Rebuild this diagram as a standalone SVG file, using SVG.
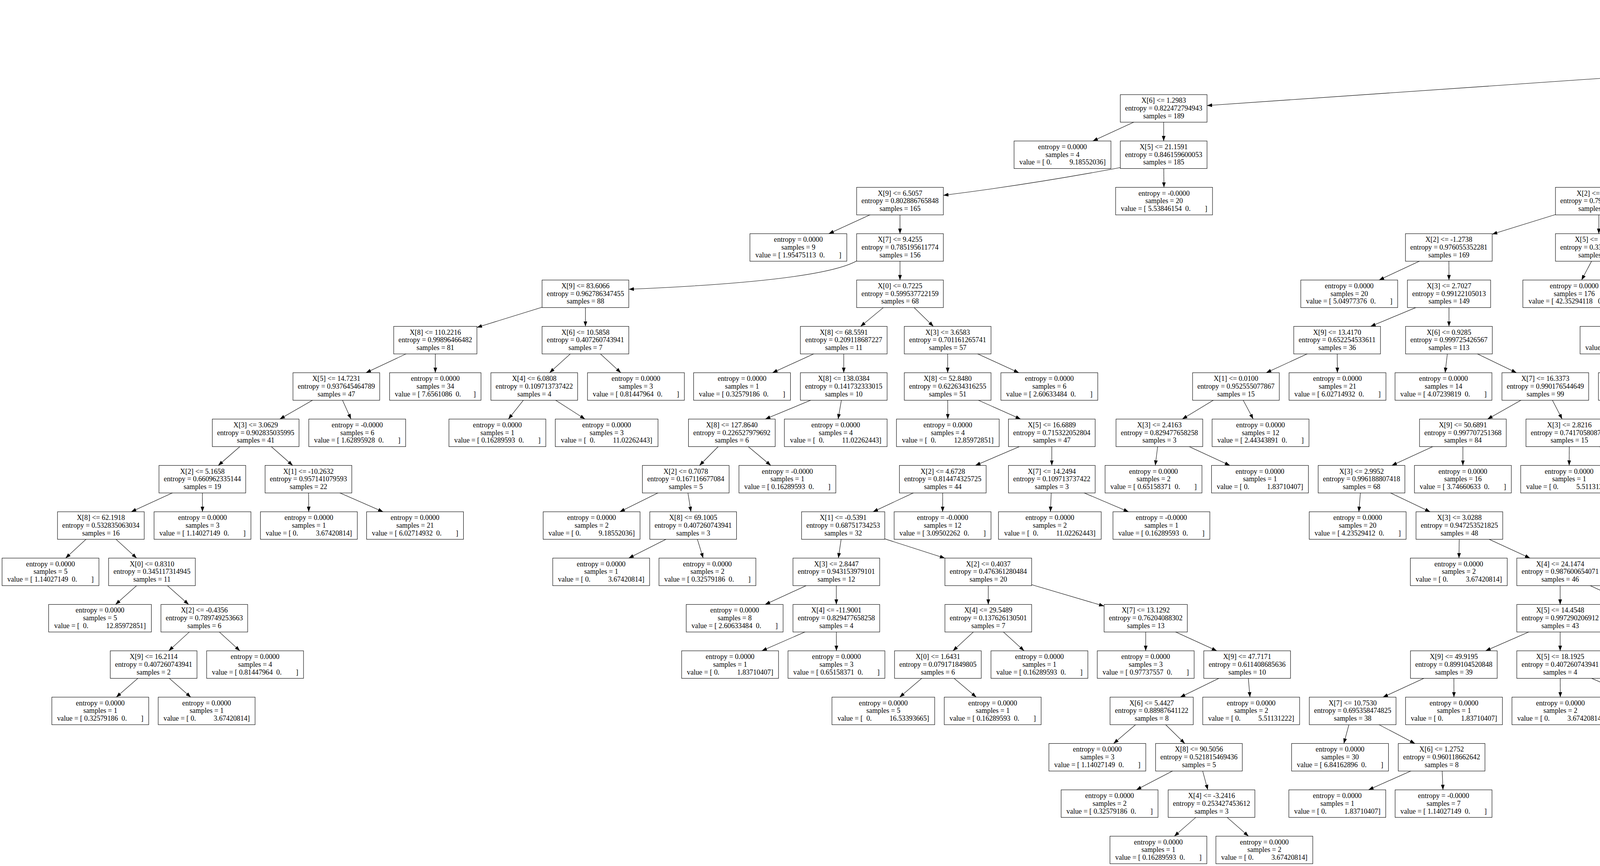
<svg xmlns="http://www.w3.org/2000/svg" width="6928" height="2217" viewBox="0 0 6928 2217" xml:space="preserve">
<style>
.n rect{fill:#fff;stroke:#000;stroke-width:1.1}
.n text{font-family:"Liberation Serif","Times New Roman",serif;font-size:18.2px;text-anchor:middle;fill:#000;white-space:pre}
#edges path{fill:none;stroke:#000;stroke-width:1.1;marker-end:url(#ah)}
</style>
<defs><marker id="ah" markerUnits="userSpaceOnUse" viewBox="0 0 13 9.4" refX="13" refY="4.7" markerWidth="13" markerHeight="9.4" orient="auto"><path d="M0 0L13 4.7L0 9.4z" fill="#000"/></marker></defs>
<rect width="6928" height="2217" fill="#fff"/>
<g id="edges">
<path d="M4920.5 40.25L4767.4 123.65"/><path d="M4920.5 40.25L5074.1 123.65"/>
<path d="M4702 158.9L3090 270.2"/><path d="M4702 158.9L4702 242.3"/><path d="M5139.7 158.9L5139.9 242.3"/><path d="M5139.7 158.9L5414 243.6"/>
<path d="M2979 277.55L2797.5 360.95"/><path d="M2979 277.55L2979 360.95"/><path d="M4702 277.55L4642.7 360.95"/><path d="M4702 277.55L4912.5 360.95"/><path d="M5525 277.55L5525 360.95"/><path d="M5525 277.55L5712.1 360.95"/>
<path d="M2868 429Q2642 471.5 2415 500"/><path d="M2979 396.2L2979.7 479.6"/><path d="M4617.4 396.2L4204 490"/><path d="M4617.4 396.2L4617.4 479.6"/><path d="M5002.4 396.2L5002.6 479.6"/><path d="M5002.4 396.2L5182.2 479.6"/><path d="M5525 396.2L5524.3 479.6"/><path d="M5525 396.2L5707.2 479.6"/>
<path d="M2304 514.85L2121.7 598.25"/><path d="M2304 514.85L2304 598.25"/><path d="M4093 514.85L3820 599.5"/><path d="M4093 514.85L4093 598.25"/><path d="M4617.4 514.85L4547 598.25"/><path d="M4617.4 514.85L4729.6 598.25"/><path d="M5002.7 514.85L5026.7 598.25"/><path d="M5002.7 514.85L5313 602.5"/><path d="M5785 514.85L5761.5 598.25"/><path d="M5785 514.85L5952.5 598.25"/>
<path d="M2193 668Q2100 720 1609.7 740.5"/><path d="M2304 633.5L2304 716.9"/><path d="M3709 633.5L3530.3 716.9"/><path d="M3709 633.5L3709.4 716.9"/><path d="M4093 633.5L4048.8 716.9"/><path d="M4093 633.5L4236 716.9"/><path d="M4777.5 633.5L4777.5 716.9"/><path d="M4777.5 633.5L5052 718.2"/><path d="M5424 633.5L5424 716.9"/><path d="M5424 633.5L5614.6 716.9"/>
<path d="M1498.7 752.15L1220.9 838.2"/><path d="M1498.7 752.15L1498.7 835.55"/><path d="M2304 752.15L2203.1 835.55"/><path d="M2304 752.15L2389.5 835.55"/><path d="M3709.5 752.15L3508.7 835.55"/><path d="M3709.5 752.15L3709.4 835.55"/><path d="M4297 752.15L4202.4 835.55"/><path d="M4297 752.15L4380.4 835.55"/><path d="M4777.5 752.15L4732.3 835.55"/><path d="M4777.5 752.15L4917.3 835.55"/><path d="M5163 752.15L5226.8 835.55"/><path d="M5163 752.15L5404.4 835.55"/>
<path d="M1114.4 870.8L936.8 954.2"/><path d="M1114.4 870.8L1114.4 954.2"/><path d="M1498.7 870.8L1406.9 954.2"/><path d="M1498.7 870.8L1589.3 954.2"/><path d="M2160 870.8L1977.5 954.2"/><path d="M2160 870.8L2160 954.2"/><path d="M2426 870.8L2426 954.2"/><path d="M2426 870.8L2608.4 954.2"/><path d="M3423 870.8L3241.5 954.2"/><path d="M3423 870.8L3423.7 954.2"/><path d="M3709.3 870.8L3699.5 954.2"/><path d="M3709.3 870.8L3882.2 954.2"/><path d="M4416 870.8L4270.9 954.2"/><path d="M4416 870.8L4448.2 954.2"/><path d="M4977 870.8L4798.3 954.2"/><path d="M4977 870.8L4994.8 954.2"/><path d="M5254 870.8L5264.5 954.2"/><path d="M5254 870.8L5446.7 954.2"/>
<path d="M861 989.45L716.3 1072.85"/><path d="M861 989.45L898.5 1072.85"/><path d="M1367.7 989.45L1301.5 1072.85"/><path d="M1367.7 989.45L1497.6 1072.85"/><path d="M2160 989.45L1959.2 1072.85"/><path d="M2160 989.45L2145.6 1072.85"/><path d="M2426 989.45L2426.3 1072.85"/><path d="M2426 989.45L2612.8 1072.85"/><path d="M3164 989.45L3026.6 1072.85"/><path d="M3164 989.45L3208.2 1072.85"/><path d="M3956 989.45L3808.1 1072.85"/><path d="M3956 989.45L3999.1 1072.85"/><path d="M4462 989.45L4420.3 1072.85"/><path d="M4462 989.45L4598.5 1072.85"/><path d="M5269 989.45L5268.6 1072.85"/><path d="M5269 989.45L5618.3 1080.6"/>
<path d="M654.5 1108.1L558.8 1191.5"/><path d="M654.5 1108.1L749.2 1191.5"/><path d="M1873.5 1108.1L1790.8 1191.5"/><path d="M1873.5 1108.1L1973.2 1191.5"/><path d="M2692.6 1108.1L2497 1191.5"/><path d="M2692.6 1108.1L2692.6 1191.5"/><path d="M2968 1108.1L2957.5 1191.5"/><path d="M2968 1108.1L3148.5 1191.5"/><path d="M3745 1108.1L3563.1 1191.5"/><path d="M3745 1108.1L3745 1191.5"/><path d="M4017.5 1108.1L4017.1 1191.5"/><path d="M4017.5 1108.1L4199.4 1191.5"/><path d="M4656.8 1108.1L4572.8 1191.5"/><path d="M4656.8 1108.1L4763.5 1191.5"/><path d="M5268.5 1108.1L5136.9 1191.5"/><path d="M5268.5 1108.1L5319.2 1191.5"/><path d="M5724.8 1108.1L5724.7 1191.5"/><path d="M5724.8 1108.1L6004 1193.2"/>
<path d="M518 1226.75L335.9 1310.15"/><path d="M518 1226.75L518.3 1310.15"/><path d="M789.6 1226.75L790.4 1310.15"/><path d="M789.6 1226.75L980.8 1310.15"/><path d="M1755.5 1226.75L1586.6 1310.15"/><path d="M1755.5 1226.75L1768.8 1310.15"/><path d="M2413.5 1226.75L2234.8 1310.15"/><path d="M2413.5 1226.75L2413.1 1310.15"/><path d="M2692.6 1226.75L2689.1 1310.15"/><path d="M2692.6 1226.75L2889.2 1310.15"/><path d="M3485.5 1226.75L3478.6 1310.15"/><path d="M3485.5 1226.75L3661.1 1310.15"/><path d="M4277 1226.75L4276.2 1310.15"/><path d="M4277 1226.75L4458 1310.15"/><path d="M5340.8 1226.75L5166.9 1310.15"/><path d="M5340.8 1226.75L5341.4 1310.15"/><path d="M5724.7 1226.75L5634.2 1310.15"/><path d="M5724.7 1226.75L5816.7 1310.15"/><path d="M6115 1226.75L6115.4 1310.15"/><path d="M6115 1226.75L6297.9 1310.15"/>
<path d="M258.2 1345.4L167.9 1428.8"/><path d="M258.2 1345.4L349.9 1428.8"/><path d="M1774.5 1345.4L1609.5 1428.8"/><path d="M1774.5 1345.4L1800.1 1428.8"/><path d="M2158.5 1345.4L2146.2 1428.8"/><path d="M2158.5 1345.4L2419 1428.9"/><path d="M3736 1345.4L3735 1428.8"/><path d="M3736 1345.4L3916.8 1428.8"/><path d="M4535.3 1345.4L4440.3 1428.8"/><path d="M4535.3 1345.4L4631.1 1428.8"/><path d="M5341.7 1345.4L5205.9 1428.8"/><path d="M5341.7 1345.4L5388 1428.8"/><path d="M5856 1345.4L5766.9 1428.8"/><path d="M5856 1345.4L5948.9 1428.8"/><path d="M6376 1345.4L6328.6 1428.8"/><path d="M6376 1345.4L6511.2 1428.8"/>
<path d="M389 1464.05L295.8 1547.45"/><path d="M389 1464.05L482.9 1547.45"/><path d="M2141 1464.05L1958.6 1547.45"/><path d="M2141 1464.05L2141 1547.45"/><path d="M2530 1464.05L2530 1547.45"/><path d="M2530 1464.05L2826.5 1551.6"/><path d="M3994 1464.05L3994 1547.45"/><path d="M3994 1464.05L4176.2 1547.45"/><path d="M5147.9 1464.05L4993.6 1547.45"/><path d="M5147.9 1464.05L5184.4 1547.45"/><path d="M5728.8 1464.05L5613.2 1547.45"/><path d="M5728.8 1464.05L5809.5 1547.45"/><path d="M6568.9 1464.05L6547.5 1547.45"/><path d="M6568.9 1464.05L6729.9 1547.45"/>
<path d="M523 1582.7L432.1 1666.1"/><path d="M523 1582.7L614.1 1666.1"/><path d="M2141 1582.7L1950.4 1666.1"/><path d="M2141 1582.7L2141.2 1666.1"/><path d="M2530 1582.7L2439.6 1666.1"/><path d="M2530 1582.7L2621.7 1666.1"/><path d="M2933 1582.7L2933 1666.1"/><path d="M2933 1582.7L3115 1666.1"/><path d="M3994 1582.7L3803.2 1666.1"/><path d="M3994 1582.7L3994 1666.1"/><path d="M4254 1582.7L4253.6 1666.1"/><path d="M4254 1582.7L4444.9 1666.1"/><path d="M5563.9 1582.7L5367.7 1666.1"/><path d="M5563.9 1582.7L5564 1666.1"/><path d="M5844 1582.7L5843.9 1666.1"/><path d="M5844 1582.7L6031.1 1666.1"/><path d="M6538.4 1582.7L6464.2 1666.1"/><path d="M6538.4 1582.7L6646.7 1666.1"/>
<path d="M393.3 1701.35L297.6 1784.75"/><path d="M393.3 1701.35L488.4 1784.75"/><path d="M2401 1701.35L2303.1 1784.75"/><path d="M2401 1701.35L2499.3 1784.75"/><path d="M3192.7 1701.35L3021.4 1784.75"/><path d="M3192.7 1701.35L3199.9 1784.75"/><path d="M3721.8 1701.35L3540.3 1784.75"/><path d="M3721.8 1701.35L3722.1 1784.75"/><path d="M3994 1701.35L3994.4 1784.75"/><path d="M3994 1701.35L4184.9 1784.75"/><path d="M6111 1701.35L5940.6 1784.75"/><path d="M6111 1701.35L6131.3 1784.75"/><path d="M6693 1701.35L6519.9 1784.75"/><path d="M6693 1701.35L6716.5 1784.75"/>
<path d="M2948.2 1820L2850.8 1903.4"/><path d="M2948.2 1820L3033.1 1903.4"/><path d="M3462.8 1820L3440.2 1903.4"/><path d="M3462.8 1820L3622.4 1903.4"/>
<path d="M3069.3 1938.65L2909 2022.05"/><path d="M3069.3 1938.65L3091.9 2022.05"/><path d="M3690.5 1938.65L3503.4 2022.05"/><path d="M3690.5 1938.65L3694 2022.05"/>
<path d="M3101.5 2057.3L3006.2 2140.7"/><path d="M3101.5 2057.3L3196.2 2140.7"/>
</g>
<g id="nodes">
<g id="nA" class="n" transform="translate(4920.5,5)"><rect x="-68.5" width="137" height="70.5"/><text y="21">X[3] &lt;= 4.1357</text><text y="40.7">entropy = 1.0</text><text y="60.5">samples = 1010</text></g>
<g id="nB" class="n" transform="translate(4702,123.65)"><rect x="-111" width="222" height="70.5"/><text y="21">X[1] &lt;= -0.0079</text><text y="40.7">entropy = 0.991662619202</text><text y="60.5">samples = 811</text></g>
<g id="nC" class="n" transform="translate(5139.7,123.65)"><rect x="-102" width="204" height="70.5"/><text y="21">X[3] &lt;= 4.5199</text><text y="40.7">entropy = 0.5472652227</text><text y="60.5">samples = 199</text></g>
<g id="nD" class="n" transform="translate(2979,242.3)"><rect x="-111" width="222" height="70.5"/><text y="21">X[6] &lt;= 1.2983</text><text y="40.7">entropy = 0.822472794943</text><text y="60.5">samples = 189</text></g>
<g id="nE" class="n" transform="translate(4702,242.3)"><rect x="-111" width="222" height="70.5"/><text y="21">X[1] &lt;= 62.9562</text><text y="40.7">entropy = 0.987907503056</text><text y="60.5">samples = 622</text></g>
<g id="nF" class="n" transform="translate(5140,242.3)"><rect x="-131.5" width="263" height="70.5"/><text y="21">entropy = 0.0000</text><text y="40.7">samples = 141</text><text y="60.5">value = [ 34.85972851   0.        ]</text></g>
<g id="nG" class="n" transform="translate(5525,242.3)"><rect x="-111" width="222" height="70.5"/><text y="21">X[3] &lt;= 4.5312</text><text y="40.7">entropy = 0.899104520848</text><text y="60.5">samples = 58</text></g>
<g id="nH" class="n" transform="translate(2720,360.95)"><rect x="-124" width="248" height="70.5"/><text y="21">entropy = 0.0000</text><text y="40.7">samples = 4</text><text y="60.5">value = [ 0.          9.18552036]</text></g>
<g id="nI" class="n" transform="translate(2979,360.95)"><rect x="-111" width="222" height="70.5"/><text y="21">X[5] &lt;= 21.1591</text><text y="40.7">entropy = 0.846159600053</text><text y="60.5">samples = 185</text></g>
<g id="nJ" class="n" transform="translate(4617.4,360.95)"><rect x="-111" width="222" height="70.5"/><text y="21">X[8] &lt;= 95.6554</text><text y="40.7">entropy = 0.975426063861</text><text y="60.5">samples = 612</text></g>
<g id="nK" class="n" transform="translate(5002.4,360.95)"><rect x="-111" width="222" height="70.5"/><text y="21">X[3] &lt;= 2.7836</text><text y="40.7">entropy = 0.562758348056</text><text y="60.5">samples = 10</text></g>
<g id="nL" class="n" transform="translate(5525,360.95)"><rect x="-111" width="222" height="70.5"/><text y="21">X[8] &lt;= 82.3426</text><text y="40.7">entropy = 0.521815469436</text><text y="60.5">samples = 6</text></g>
<g id="nM" class="n" transform="translate(5792,360.95)"><rect x="-131.5" width="263" height="70.5"/><text y="21">entropy = 0.0000</text><text y="40.7">samples = 52</text><text y="60.5">value = [ 14.98642534   0.        ]</text></g>
<g id="nN" class="n" transform="translate(2304,479.6)"><rect x="-111" width="222" height="70.5"/><text y="21">X[9] &lt;= 6.5057</text><text y="40.7">entropy = 0.802886765848</text><text y="60.5">samples = 165</text></g>
<g id="nO" class="n" transform="translate(2980,479.6)"><rect x="-124" width="248" height="70.5"/><text y="21">entropy = -0.0000</text><text y="40.7">samples = 20</text><text y="60.5">value = [ 5.53846154  0.        ]</text></g>
<g id="nP" class="n" transform="translate(4093,479.6)"><rect x="-111" width="222" height="70.5"/><text y="21">X[2] &lt;= 4.3133</text><text y="40.7">entropy = 0.796852579273</text><text y="60.5">samples = 398</text></g>
<g id="nQ" class="n" transform="translate(4617.4,479.6)"><rect x="-111" width="222" height="70.5"/><text y="21">X[6] &lt;= 1.5353</text><text y="40.7">entropy = 0.976887509281</text><text y="60.5">samples = 214</text></g>
<g id="nR" class="n" transform="translate(5002.7,479.6)"><rect x="-115.5" width="231" height="70.5"/><text y="21">X[3] &lt;= 2.7765</text><text y="40.7">entropy = 0.0969993599995</text><text y="60.5">samples = 4</text></g>
<g id="nS" class="n" transform="translate(5259,479.6)"><rect x="-117" width="234" height="70.5"/><text y="21">entropy = -0.0000</text><text y="40.7">samples = 6</text><text y="60.5">value = [ 1.7918552  0.       ]</text></g>
<g id="nT" class="n" transform="translate(5524,479.6)"><rect x="-124" width="248" height="70.5"/><text y="21">entropy = 0.0000</text><text y="40.7">samples = 1</text><text y="60.5">value = [ 0.65158371  0.        ]</text></g>
<g id="nU" class="n" transform="translate(5785,479.6)"><rect x="-111" width="222" height="70.5"/><text y="21">X[6] &lt;= 22.1651</text><text y="40.7">entropy = 0.253427453612</text><text y="60.5">samples = 5</text></g>
<g id="nV" class="n" transform="translate(2043.8,598.25)"><rect x="-124" width="248" height="70.5"/><text y="21">entropy = 0.0000</text><text y="40.7">samples = 9</text><text y="60.5">value = [ 1.95475113  0.        ]</text></g>
<g id="nW" class="n" transform="translate(2304,598.25)"><rect x="-111" width="222" height="70.5"/><text y="21">X[7] &lt;= 9.4255</text><text y="40.7">entropy = 0.785195611774</text><text y="60.5">samples = 156</text></g>
<g id="nX" class="n" transform="translate(3709,598.25)"><rect x="-111" width="222" height="70.5"/><text y="21">X[2] &lt;= -1.2738</text><text y="40.7">entropy = 0.976055352281</text><text y="60.5">samples = 169</text></g>
<g id="nY" class="n" transform="translate(4093,598.25)"><rect x="-111" width="222" height="70.5"/><text y="21">X[5] &lt;= 16.2916</text><text y="40.7">entropy = 0.336166551227</text><text y="60.5">samples = 229</text></g>
<g id="nZ" class="n" transform="translate(4517,598.25)"><rect x="-124" width="248" height="70.5"/><text y="21">entropy = 0.0000</text><text y="40.7">samples = 23</text><text y="60.5">value = [ 5.86425339  0.        ]</text></g>
<g id="nAA" class="n" transform="translate(4777.5,598.25)"><rect x="-111" width="222" height="70.5"/><text y="21">X[3] &lt;= 2.5805</text><text y="40.7">entropy = 0.956799689083</text><text y="60.5">samples = 191</text></g>
<g id="nAB" class="n" transform="translate(5037,598.25)"><rect x="-124" width="248" height="70.5"/><text y="21">entropy = 0.0000</text><text y="40.7">samples = 2</text><text y="60.5">value = [ 0.          9.18552036]</text></g>
<g id="nAC" class="n" transform="translate(5424,598.25)"><rect x="-111" width="222" height="70.5"/><text y="21">X[6] &lt;= 7.7381</text><text y="40.7">entropy = 0.253427453612</text><text y="60.5">samples = 2</text></g>
<g id="nAD" class="n" transform="translate(5751.4,598.25)"><rect x="-124" width="248" height="70.5"/><text y="21">entropy = 0.0000</text><text y="40.7">samples = 2</text><text y="60.5">value = [ 0.32579186  0.        ]</text></g>
<g id="nAE" class="n" transform="translate(6024,598.25)"><rect x="-124" width="248" height="70.5"/><text y="21">entropy = 0.0000</text><text y="40.7">samples = 3</text><text y="60.5">value = [ 0.          7.34841629]</text></g>
<g id="nAF" class="n" transform="translate(1498.7,716.9)"><rect x="-111" width="222" height="70.5"/><text y="21">X[9] &lt;= 83.6066</text><text y="40.7">entropy = 0.962786347455</text><text y="60.5">samples = 88</text></g>
<g id="nAG" class="n" transform="translate(2304,716.9)"><rect x="-111" width="222" height="70.5"/><text y="21">X[0] &lt;= 0.7225</text><text y="40.7">entropy = 0.599537722159</text><text y="60.5">samples = 68</text></g>
<g id="nAH" class="n" transform="translate(3454,716.9)"><rect x="-124" width="248" height="70.5"/><text y="21">entropy = 0.0000</text><text y="40.7">samples = 20</text><text y="60.5">value = [ 5.04977376  0.        ]</text></g>
<g id="nAI" class="n" transform="translate(3709.5,716.9)"><rect x="-106.5" width="213" height="70.5"/><text y="21">X[3] &lt;= 2.7027</text><text y="40.7">entropy = 0.99122105013</text><text y="60.5">samples = 149</text></g>
<g id="nAJ" class="n" transform="translate(4030,716.9)"><rect x="-131.5" width="263" height="70.5"/><text y="21">entropy = 0.0000</text><text y="40.7">samples = 176</text><text y="60.5">value = [ 42.35294118   0.        ]</text></g>
<g id="nAK" class="n" transform="translate(4297,716.9)"><rect x="-111" width="222" height="70.5"/><text y="21">X[7] &lt;= 12.2168</text><text y="40.7">entropy = 0.760048787217</text><text y="60.5">samples = 53</text></g>
<g id="nAL" class="n" transform="translate(4777.5,716.9)"><rect x="-111" width="222" height="70.5"/><text y="21">X[5] &lt;= -2.5011</text><text y="40.7">entropy = 0.368286665986</text><text y="60.5">samples = 8</text></g>
<g id="nAM" class="n" transform="translate(5163,716.9)"><rect x="-111" width="222" height="70.5"/><text y="21">X[2] &lt;= 8.9155</text><text y="40.7">entropy = 0.983381412486</text><text y="60.5">samples = 183</text></g>
<g id="nAN" class="n" transform="translate(5424,716.9)"><rect x="-124" width="248" height="70.5"/><text y="21">entropy = 0.0000</text><text y="40.7">samples = 1</text><text y="60.5">value = [ 0.          3.67420814]</text></g>
<g id="nAO" class="n" transform="translate(5696,716.9)"><rect x="-124" width="248" height="70.5"/><text y="21">entropy = -0.0000</text><text y="40.7">samples = 1</text><text y="60.5">value = [ 0.16289593  0.        ]</text></g>
<g id="nAP" class="n" transform="translate(1114.4,835.55)"><rect x="-106.5" width="213" height="70.5"/><text y="21">X[8] &lt;= 110.2216</text><text y="40.7">entropy = 0.99896466482</text><text y="60.5">samples = 81</text></g>
<g id="nAQ" class="n" transform="translate(1498.7,835.55)"><rect x="-111" width="222" height="70.5"/><text y="21">X[6] &lt;= 10.5858</text><text y="40.7">entropy = 0.407260743941</text><text y="60.5">samples = 7</text></g>
<g id="nAR" class="n" transform="translate(2160,835.55)"><rect x="-111" width="222" height="70.5"/><text y="21">X[8] &lt;= 68.5591</text><text y="40.7">entropy = 0.209118687227</text><text y="60.5">samples = 11</text></g>
<g id="nAS" class="n" transform="translate(2426,835.55)"><rect x="-111" width="222" height="70.5"/><text y="21">X[3] &lt;= 3.6583</text><text y="40.7">entropy = 0.701161265741</text><text y="60.5">samples = 57</text></g>
<g id="nAT" class="n" transform="translate(3423,835.55)"><rect x="-111" width="222" height="70.5"/><text y="21">X[9] &lt;= 13.4170</text><text y="40.7">entropy = 0.652254533611</text><text y="60.5">samples = 36</text></g>
<g id="nAU" class="n" transform="translate(3709.3,835.55)"><rect x="-111" width="222" height="70.5"/><text y="21">X[6] &lt;= 0.9285</text><text y="40.7">entropy = 0.999725426567</text><text y="60.5">samples = 113</text></g>
<g id="nAV" class="n" transform="translate(4162,835.55)"><rect x="-117" width="234" height="70.5"/><text y="21">entropy = 0.0000</text><text y="40.7">samples = 30</text><text y="60.5">value = [ 7.6561086  0.       ]</text></g>
<g id="nAW" class="n" transform="translate(4416,835.55)"><rect x="-111" width="222" height="70.5"/><text y="21">X[6] &lt;= 2.2561</text><text y="40.7">entropy = 0.974352344529</text><text y="60.5">samples = 23</text></g>
<g id="nAX" class="n" transform="translate(4713,835.55)"><rect x="-124" width="248" height="70.5"/><text y="21">entropy = 0.0000</text><text y="40.7">samples = 3</text><text y="60.5">value = [ 0.81447964  0.        ]</text></g>
<g id="nAY" class="n" transform="translate(4977,835.55)"><rect x="-115.5" width="231" height="70.5"/><text y="21">X[3] &lt;= 2.3244</text><text y="40.7">entropy = 0.0969993599995</text><text y="60.5">samples = 5</text></g>
<g id="nAZ" class="n" transform="translate(5254,835.55)"><rect x="-111" width="222" height="70.5"/><text y="21">X[0] &lt;= 1.1987</text><text y="40.7">entropy = 0.958494021826</text><text y="60.5">samples = 152</text></g>
<g id="nBA" class="n" transform="translate(5507.5,835.55)"><rect x="-117" width="234" height="70.5"/><text y="21">entropy = 0.0000</text><text y="40.7">samples = 31</text><text y="60.5">value = [ 6.5158371  0.       ]</text></g>
<g id="nBB" class="n" transform="translate(861,954.2)"><rect x="-111" width="222" height="70.5"/><text y="21">X[5] &lt;= 14.7231</text><text y="40.7">entropy = 0.937645464789</text><text y="60.5">samples = 47</text></g>
<g id="nBC" class="n" transform="translate(1114.4,954.2)"><rect x="-117" width="234" height="70.5"/><text y="21">entropy = 0.0000</text><text y="40.7">samples = 34</text><text y="60.5">value = [ 7.6561086  0.       ]</text></g>
<g id="nBD" class="n" transform="translate(1367.7,954.2)"><rect x="-111" width="222" height="70.5"/><text y="21">X[4] &lt;= 6.0808</text><text y="40.7">entropy = 0.109713737422</text><text y="60.5">samples = 4</text></g>
<g id="nBE" class="n" transform="translate(1628,954.2)"><rect x="-124" width="248" height="70.5"/><text y="21">entropy = 0.0000</text><text y="40.7">samples = 3</text><text y="60.5">value = [ 0.81447964  0.        ]</text></g>
<g id="nBF" class="n" transform="translate(1899.6,954.2)"><rect x="-124" width="248" height="70.5"/><text y="21">entropy = 0.0000</text><text y="40.7">samples = 1</text><text y="60.5">value = [ 0.32579186  0.        ]</text></g>
<g id="nBG" class="n" transform="translate(2160,954.2)"><rect x="-111" width="222" height="70.5"/><text y="21">X[8] &lt;= 138.0384</text><text y="40.7">entropy = 0.141732333015</text><text y="60.5">samples = 10</text></g>
<g id="nBH" class="n" transform="translate(2426,954.2)"><rect x="-111" width="222" height="70.5"/><text y="21">X[8] &lt;= 52.8480</text><text y="40.7">entropy = 0.622634316255</text><text y="60.5">samples = 51</text></g>
<g id="nBI" class="n" transform="translate(2686.3,954.2)"><rect x="-124" width="248" height="70.5"/><text y="21">entropy = 0.0000</text><text y="40.7">samples = 6</text><text y="60.5">value = [ 2.60633484  0.        ]</text></g>
<g id="nBJ" class="n" transform="translate(3164,954.2)"><rect x="-111" width="222" height="70.5"/><text y="21">X[1] &lt;= 0.0100</text><text y="40.7">entropy = 0.952555077867</text><text y="60.5">samples = 15</text></g>
<g id="nBK" class="n" transform="translate(3424,954.2)"><rect x="-124" width="248" height="70.5"/><text y="21">entropy = 0.0000</text><text y="40.7">samples = 21</text><text y="60.5">value = [ 6.02714932  0.        ]</text></g>
<g id="nBL" class="n" transform="translate(3695.3,954.2)"><rect x="-124" width="248" height="70.5"/><text y="21">entropy = 0.0000</text><text y="40.7">samples = 14</text><text y="60.5">value = [ 4.07239819  0.        ]</text></g>
<g id="nBM" class="n" transform="translate(3956,954.2)"><rect x="-111" width="222" height="70.5"/><text y="21">X[7] &lt;= 16.3373</text><text y="40.7">entropy = 0.990176544649</text><text y="60.5">samples = 99</text></g>
<g id="nBN" class="n" transform="translate(4209,954.2)"><rect x="-117" width="234" height="70.5"/><text y="21">entropy = 0.0000</text><text y="40.7">samples = 13</text><text y="60.5">value = [ 2.9321267  0.       ]</text></g>
<g id="nBO" class="n" transform="translate(4462,954.2)"><rect x="-111" width="222" height="70.5"/><text y="21">X[5] &lt;= 16.3657</text><text y="40.7">entropy = 0.970603410275</text><text y="60.5">samples = 10</text></g>
<g id="nBP" class="n" transform="translate(4722,954.2)"><rect x="-124" width="248" height="70.5"/><text y="21">entropy = 0.0000</text><text y="40.7">samples = 1</text><text y="60.5">value = [ 0.16289593  0.        ]</text></g>
<g id="nBQ" class="n" transform="translate(5002.4,954.2)"><rect x="-131.5" width="263" height="70.5"/><text y="21">entropy = 0.0000</text><text y="40.7">samples = 4</text><text y="60.5">value = [  0.          12.85972851]</text></g>
<g id="nBR" class="n" transform="translate(5269,954.2)"><rect x="-111" width="222" height="70.5"/><text y="21">X[9] &lt;= 31.8168</text><text y="40.7">entropy = 0.911960015342</text><text y="60.5">samples = 126</text></g>
<g id="nBS" class="n" transform="translate(5529,954.2)"><rect x="-124" width="248" height="70.5"/><text y="21">entropy = -0.0000</text><text y="40.7">samples = 26</text><text y="60.5">value = [ 6.84162896  0.        ]</text></g>
<g id="nBT" class="n" transform="translate(654.5,1072.85)"><rect x="-111" width="222" height="70.5"/><text y="21">X[3] &lt;= 3.0629</text><text y="40.7">entropy = 0.902835035995</text><text y="60.5">samples = 41</text></g>
<g id="nBU" class="n" transform="translate(914.5,1072.85)"><rect x="-124" width="248" height="70.5"/><text y="21">entropy = -0.0000</text><text y="40.7">samples = 6</text><text y="60.5">value = [ 1.62895928  0.        ]</text></g>
<g id="nBV" class="n" transform="translate(1273.3,1072.85)"><rect x="-124" width="248" height="70.5"/><text y="21">entropy = 0.0000</text><text y="40.7">samples = 1</text><text y="60.5">value = [ 0.16289593  0.        ]</text></g>
<g id="nBW" class="n" transform="translate(1553,1072.85)"><rect x="-131.5" width="263" height="70.5"/><text y="21">entropy = 0.0000</text><text y="40.7">samples = 3</text><text y="60.5">value = [  0.          11.02262443]</text></g>
<g id="nBX" class="n" transform="translate(1873.5,1072.85)"><rect x="-111" width="222" height="70.5"/><text y="21">X[8] &lt;= 127.8640</text><text y="40.7">entropy = 0.226527979692</text><text y="60.5">samples = 6</text></g>
<g id="nBY" class="n" transform="translate(2139.5,1072.85)"><rect x="-131.5" width="263" height="70.5"/><text y="21">entropy = 0.0000</text><text y="40.7">samples = 4</text><text y="60.5">value = [  0.          11.02262443]</text></g>
<g id="nBZ" class="n" transform="translate(2426.4,1072.85)"><rect x="-131.5" width="263" height="70.5"/><text y="21">entropy = 0.0000</text><text y="40.7">samples = 4</text><text y="60.5">value = [  0.          12.85972851]</text></g>
<g id="nCA" class="n" transform="translate(2692.6,1072.85)"><rect x="-111" width="222" height="70.5"/><text y="21">X[5] &lt;= 16.6889</text><text y="40.7">entropy = 0.715322052804</text><text y="60.5">samples = 47</text></g>
<g id="nCB" class="n" transform="translate(2968,1072.85)"><rect x="-111" width="222" height="70.5"/><text y="21">X[3] &lt;= 2.4163</text><text y="40.7">entropy = 0.829477658258</text><text y="60.5">samples = 3</text></g>
<g id="nCC" class="n" transform="translate(3227,1072.85)"><rect x="-124" width="248" height="70.5"/><text y="21">entropy = 0.0000</text><text y="40.7">samples = 12</text><text y="60.5">value = [ 2.44343891  0.        ]</text></g>
<g id="nCD" class="n" transform="translate(3745,1072.85)"><rect x="-111" width="222" height="70.5"/><text y="21">X[9] &lt;= 50.6891</text><text y="40.7">entropy = 0.997707251368</text><text y="60.5">samples = 84</text></g>
<g id="nCE" class="n" transform="translate(4017.5,1072.85)"><rect x="-111" width="222" height="70.5"/><text y="21">X[3] &lt;= 2.8216</text><text y="40.7">entropy = 0.741705808706</text><text y="60.5">samples = 15</text></g>
<g id="nCF" class="n" transform="translate(4402.5,1072.85)"><rect x="-124" width="248" height="70.5"/><text y="21">entropy = 0.0000</text><text y="40.7">samples = 1</text><text y="60.5">value = [ 0.          1.83710407]</text></g>
<g id="nCG" class="n" transform="translate(4656.8,1072.85)"><rect x="-106.5" width="213" height="70.5"/><text y="21">X[7] &lt;= 13.1836</text><text y="40.7">entropy = 0.98547776363</text><text y="60.5">samples = 9</text></g>
<g id="nCH" class="n" transform="translate(5268.5,1072.85)"><rect x="-111" width="222" height="70.5"/><text y="21">X[0] &lt;= 0.3141</text><text y="40.7">entropy = 0.918843104256</text><text y="60.5">samples = 36</text></g>
<g id="nCI" class="n" transform="translate(5724.8,1072.85)"><rect x="-106.5" width="213" height="70.5"/><text y="21">X[6] &lt;= 3.5684</text><text y="40.7">entropy = 0.84488947595</text><text y="60.5">samples = 90</text></g>
<g id="nCJ" class="n" transform="translate(518,1191.5)"><rect x="-111" width="222" height="70.5"/><text y="21">X[2] &lt;= 5.1658</text><text y="40.7">entropy = 0.660962335144</text><text y="60.5">samples = 19</text></g>
<g id="nCK" class="n" transform="translate(789.6,1191.5)"><rect x="-111" width="222" height="70.5"/><text y="21">X[1] &lt;= -10.2632</text><text y="40.7">entropy = 0.957141079593</text><text y="60.5">samples = 22</text></g>
<g id="nCL" class="n" transform="translate(1755.5,1191.5)"><rect x="-111" width="222" height="70.5"/><text y="21">X[2] &lt;= 0.7078</text><text y="40.7">entropy = 0.167116677084</text><text y="60.5">samples = 5</text></g>
<g id="nCM" class="n" transform="translate(2015.7,1191.5)"><rect x="-124" width="248" height="70.5"/><text y="21">entropy = -0.0000</text><text y="40.7">samples = 1</text><text y="60.5">value = [ 0.16289593  0.        ]</text></g>
<g id="nCN" class="n" transform="translate(2413.5,1191.5)"><rect x="-111" width="222" height="70.5"/><text y="21">X[2] &lt;= 4.6728</text><text y="40.7">entropy = 0.814474325725</text><text y="60.5">samples = 44</text></g>
<g id="nCO" class="n" transform="translate(2692.6,1191.5)"><rect x="-111" width="222" height="70.5"/><text y="21">X[7] &lt;= 14.2494</text><text y="40.7">entropy = 0.109713737422</text><text y="60.5">samples = 3</text></g>
<g id="nCP" class="n" transform="translate(2953,1191.5)"><rect x="-124" width="248" height="70.5"/><text y="21">entropy = 0.0000</text><text y="40.7">samples = 2</text><text y="60.5">value = [ 0.65158371  0.        ]</text></g>
<g id="nCQ" class="n" transform="translate(3225.5,1191.5)"><rect x="-124" width="248" height="70.5"/><text y="21">entropy = 0.0000</text><text y="40.7">samples = 1</text><text y="60.5">value = [ 0.          1.83710407]</text></g>
<g id="nCR" class="n" transform="translate(3485.5,1191.5)"><rect x="-111" width="222" height="70.5"/><text y="21">X[3] &lt;= 2.9952</text><text y="40.7">entropy = 0.996188807418</text><text y="60.5">samples = 68</text></g>
<g id="nCS" class="n" transform="translate(3745,1191.5)"><rect x="-124" width="248" height="70.5"/><text y="21">entropy = 0.0000</text><text y="40.7">samples = 16</text><text y="60.5">value = [ 3.74660633  0.        ]</text></g>
<g id="nCT" class="n" transform="translate(4017,1191.5)"><rect x="-124" width="248" height="70.5"/><text y="21">entropy = 0.0000</text><text y="40.7">samples = 1</text><text y="60.5">value = [ 0.          5.51131222]</text></g>
<g id="nCU" class="n" transform="translate(4277,1191.5)"><rect x="-111" width="222" height="70.5"/><text y="21">X[4] &lt;= 14.4828</text><text y="40.7">entropy = 0.970603410275</text><text y="60.5">samples = 14</text></g>
<g id="nCV" class="n" transform="translate(4537,1191.5)"><rect x="-124" width="248" height="70.5"/><text y="21">entropy = 0.0000</text><text y="40.7">samples = 1</text><text y="60.5">value = [ 0.          1.83710407]</text></g>
<g id="nCW" class="n" transform="translate(4809,1191.5)"><rect x="-124" width="248" height="70.5"/><text y="21">entropy = 0.0000</text><text y="40.7">samples = 8</text><text y="60.5">value = [ 2.44343891  0.        ]</text></g>
<g id="nCX" class="n" transform="translate(5080.7,1191.5)"><rect x="-124" width="248" height="70.5"/><text y="21">entropy = 0.0000</text><text y="40.7">samples = 1</text><text y="60.5">value = [ 0.          1.83710407]</text></g>
<g id="nCY" class="n" transform="translate(5340.8,1191.5)"><rect x="-111" width="222" height="70.5"/><text y="21">X[2] &lt;= 6.7341</text><text y="40.7">entropy = 0.722717125747</text><text y="60.5">samples = 35</text></g>
<g id="nCZ" class="n" transform="translate(5724.7,1191.5)"><rect x="-111" width="222" height="70.5"/><text y="21">X[5] &lt;= -1.0828</text><text y="40.7">entropy = 0.497167761416</text><text y="60.5">samples = 34</text></g>
<g id="nDA" class="n" transform="translate(6115,1191.5)"><rect x="-111" width="222" height="70.5"/><text y="21">X[7] &lt;= 7.2267</text><text y="40.7">entropy = 0.990681260613</text><text y="60.5">samples = 56</text></g>
<g id="nDB" class="n" transform="translate(258.2,1310.15)"><rect x="-111" width="222" height="70.5"/><text y="21">X[8] &lt;= 62.1918</text><text y="40.7">entropy = 0.532835063034</text><text y="60.5">samples = 16</text></g>
<g id="nDC" class="n" transform="translate(518.4,1310.15)"><rect x="-124" width="248" height="70.5"/><text y="21">entropy = 0.0000</text><text y="40.7">samples = 3</text><text y="60.5">value = [ 1.14027149  0.        ]</text></g>
<g id="nDD" class="n" transform="translate(790.7,1310.15)"><rect x="-124" width="248" height="70.5"/><text y="21">entropy = 0.0000</text><text y="40.7">samples = 1</text><text y="60.5">value = [ 0.          3.67420814]</text></g>
<g id="nDE" class="n" transform="translate(1062.5,1310.15)"><rect x="-124" width="248" height="70.5"/><text y="21">entropy = 0.0000</text><text y="40.7">samples = 21</text><text y="60.5">value = [ 6.02714932  0.        ]</text></g>
<g id="nDF" class="n" transform="translate(1514.5,1310.15)"><rect x="-124" width="248" height="70.5"/><text y="21">entropy = 0.0000</text><text y="40.7">samples = 2</text><text y="60.5">value = [ 0.          9.18552036]</text></g>
<g id="nDG" class="n" transform="translate(1774.5,1310.15)"><rect x="-111" width="222" height="70.5"/><text y="21">X[8] &lt;= 69.1005</text><text y="40.7">entropy = 0.407260743941</text><text y="60.5">samples = 3</text></g>
<g id="nDH" class="n" transform="translate(2158.5,1310.15)"><rect x="-106.5" width="213" height="70.5"/><text y="21">X[1] &lt;= -0.5391</text><text y="40.7">entropy = 0.68751734253</text><text y="60.5">samples = 32</text></g>
<g id="nDI" class="n" transform="translate(2413,1310.15)"><rect x="-124" width="248" height="70.5"/><text y="21">entropy = -0.0000</text><text y="40.7">samples = 12</text><text y="60.5">value = [ 3.09502262  0.        ]</text></g>
<g id="nDJ" class="n" transform="translate(2687.6,1310.15)"><rect x="-131.5" width="263" height="70.5"/><text y="21">entropy = 0.0000</text><text y="40.7">samples = 2</text><text y="60.5">value = [  0.          11.02262443]</text></g>
<g id="nDK" class="n" transform="translate(2973.2,1310.15)"><rect x="-124" width="248" height="70.5"/><text y="21">entropy = -0.0000</text><text y="40.7">samples = 1</text><text y="60.5">value = [ 0.16289593  0.        ]</text></g>
<g id="nDL" class="n" transform="translate(3475.6,1310.15)"><rect x="-124" width="248" height="70.5"/><text y="21">entropy = 0.0000</text><text y="40.7">samples = 20</text><text y="60.5">value = [ 4.23529412  0.        ]</text></g>
<g id="nDM" class="n" transform="translate(3736,1310.15)"><rect x="-111" width="222" height="70.5"/><text y="21">X[3] &lt;= 3.0288</text><text y="40.7">entropy = 0.947253521825</text><text y="60.5">samples = 48</text></g>
<g id="nDN" class="n" transform="translate(4275.8,1310.15)"><rect x="-124" width="248" height="70.5"/><text y="21">entropy = 0.0000</text><text y="40.7">samples = 10</text><text y="60.5">value = [ 2.11764706  0.        ]</text></g>
<g id="nDO" class="n" transform="translate(4535.3,1310.15)"><rect x="-111" width="222" height="70.5"/><text y="21">X[8] &lt;= 68.1946</text><text y="40.7">entropy = 0.407260743941</text><text y="60.5">samples = 4</text></g>
<g id="nDP" class="n" transform="translate(5092.6,1310.15)"><rect x="-117" width="234" height="70.5"/><text y="21">entropy = 0.0000</text><text y="40.7">samples = 29</text><text y="60.5">value = [ 6.5158371  0.       ]</text></g>
<g id="nDQ" class="n" transform="translate(5341.7,1310.15)"><rect x="-106.5" width="213" height="70.5"/><text y="21">X[9] &lt;= 24.7028</text><text y="40.7">entropy = 0.88987641122</text><text y="60.5">samples = 6</text></g>
<g id="nDR" class="n" transform="translate(5595.6,1310.15)"><rect x="-124" width="248" height="70.5"/><text y="21">entropy = 0.0000</text><text y="40.7">samples = 7</text><text y="60.5">value = [ 1.95475113  0.        ]</text></g>
<g id="nDS" class="n" transform="translate(5856,1310.15)"><rect x="-111" width="222" height="70.5"/><text y="21">X[8] &lt;= 142.4537</text><text y="40.7">entropy = 0.354524870318</text><text y="60.5">samples = 27</text></g>
<g id="nDT" class="n" transform="translate(6115.5,1310.15)"><rect x="-124" width="248" height="70.5"/><text y="21">entropy = 0.0000</text><text y="40.7">samples = 32</text><text y="60.5">value = [ 7.98190045  0.        ]</text></g>
<g id="nDU" class="n" transform="translate(6376,1310.15)"><rect x="-111" width="222" height="70.5"/><text y="21">X[2] &lt;= 4.6740</text><text y="40.7">entropy = 0.931603434368</text><text y="60.5">samples = 24</text></g>
<g id="nDV" class="n" transform="translate(129.3,1428.8)"><rect x="-124" width="248" height="70.5"/><text y="21">entropy = 0.0000</text><text y="40.7">samples = 5</text><text y="60.5">value = [ 1.14027149  0.        ]</text></g>
<g id="nDW" class="n" transform="translate(389,1428.8)"><rect x="-111" width="222" height="70.5"/><text y="21">X[0] &lt;= 0.8310</text><text y="40.7">entropy = 0.345117314945</text><text y="60.5">samples = 11</text></g>
<g id="nDX" class="n" transform="translate(1539,1428.8)"><rect x="-124" width="248" height="70.5"/><text y="21">entropy = 0.0000</text><text y="40.7">samples = 1</text><text y="60.5">value = [ 0.          3.67420814]</text></g>
<g id="nDY" class="n" transform="translate(1811,1428.8)"><rect x="-124" width="248" height="70.5"/><text y="21">entropy = 0.0000</text><text y="40.7">samples = 2</text><text y="60.5">value = [ 0.32579186  0.        ]</text></g>
<g id="nDZ" class="n" transform="translate(2141,1428.8)"><rect x="-111" width="222" height="70.5"/><text y="21">X[3] &lt;= 2.8447</text><text y="40.7">entropy = 0.943153979101</text><text y="60.5">samples = 12</text></g>
<g id="nEA" class="n" transform="translate(2530,1428.8)"><rect x="-111" width="222" height="70.5"/><text y="21">X[2] &lt;= 0.4037</text><text y="40.7">entropy = 0.476361280484</text><text y="60.5">samples = 20</text></g>
<g id="nEB" class="n" transform="translate(3734.5,1428.8)"><rect x="-124" width="248" height="70.5"/><text y="21">entropy = 0.0000</text><text y="40.7">samples = 2</text><text y="60.5">value = [ 0.          3.67420814]</text></g>
<g id="nEC" class="n" transform="translate(3994,1428.8)"><rect x="-111" width="222" height="70.5"/><text y="21">X[4] &lt;= 24.1474</text><text y="40.7">entropy = 0.987600654071</text><text y="60.5">samples = 46</text></g>
<g id="nED" class="n" transform="translate(4399.7,1428.8)"><rect x="-124" width="248" height="70.5"/><text y="21">entropy = 0.0000</text><text y="40.7">samples = 2</text><text y="60.5">value = [ 0.32579186  0.        ]</text></g>
<g id="nEE" class="n" transform="translate(4672,1428.8)"><rect x="-124" width="248" height="70.5"/><text y="21">entropy = 0.0000</text><text y="40.7">samples = 2</text><text y="60.5">value = [ 0.          3.67420814]</text></g>
<g id="nEF" class="n" transform="translate(5147.9,1428.8)"><rect x="-111" width="222" height="70.5"/><text y="21">X[4] &lt;= 12.4282</text><text y="40.7">entropy = 0.611408685636</text><text y="60.5">samples = 3</text></g>
<g id="nEG" class="n" transform="translate(5407.7,1428.8)"><rect x="-124" width="248" height="70.5"/><text y="21">entropy = -0.0000</text><text y="40.7">samples = 3</text><text y="60.5">value = [ 0.48868778  0.        ]</text></g>
<g id="nEH" class="n" transform="translate(5728.8,1428.8)"><rect x="-111" width="222" height="70.5"/><text y="21">X[7] &lt;= 2.9502</text><text y="40.7">entropy = 0.294978093141</text><text y="60.5">samples = 24</text></g>
<g id="nEI" class="n" transform="translate(5988.5,1428.8)"><rect x="-124" width="248" height="70.5"/><text y="21">entropy = -0.0000</text><text y="40.7">samples = 3</text><text y="60.5">value = [ 0.65158371  0.        ]</text></g>
<g id="nEJ" class="n" transform="translate(6308.4,1428.8)"><rect x="-124" width="248" height="70.5"/><text y="21">entropy = 0.0000</text><text y="40.7">samples = 15</text><text y="60.5">value = [ 3.74660633  0.        ]</text></g>
<g id="nEK" class="n" transform="translate(6568.9,1428.8)"><rect x="-111" width="222" height="70.5"/><text y="21">X[1] &lt;= 0.1897</text><text y="40.7">entropy = 0.637070354117</text><text y="60.5">samples = 9</text></g>
<g id="nEL" class="n" transform="translate(256,1547.45)"><rect x="-131.5" width="263" height="70.5"/><text y="21">entropy = 0.0000</text><text y="40.7">samples = 5</text><text y="60.5">value = [  0.          12.85972851]</text></g>
<g id="nEM" class="n" transform="translate(523,1547.45)"><rect x="-111" width="222" height="70.5"/><text y="21">X[2] &lt;= -0.4356</text><text y="40.7">entropy = 0.789749253663</text><text y="60.5">samples = 6</text></g>
<g id="nEN" class="n" transform="translate(1880.7,1547.45)"><rect x="-124" width="248" height="70.5"/><text y="21">entropy = 0.0000</text><text y="40.7">samples = 8</text><text y="60.5">value = [ 2.60633484  0.        ]</text></g>
<g id="nEO" class="n" transform="translate(2141,1547.45)"><rect x="-111" width="222" height="70.5"/><text y="21">X[4] &lt;= -11.9001</text><text y="40.7">entropy = 0.829477658258</text><text y="60.5">samples = 4</text></g>
<g id="nEP" class="n" transform="translate(2530,1547.45)"><rect x="-111" width="222" height="70.5"/><text y="21">X[4] &lt;= 29.5489</text><text y="40.7">entropy = 0.137626130501</text><text y="60.5">samples = 7</text></g>
<g id="nEQ" class="n" transform="translate(2933,1547.45)"><rect x="-106.5" width="213" height="70.5"/><text y="21">X[7] &lt;= 13.1292</text><text y="40.7">entropy = 0.76204088302</text><text y="60.5">samples = 13</text></g>
<g id="nER" class="n" transform="translate(3994,1547.45)"><rect x="-111" width="222" height="70.5"/><text y="21">X[5] &lt;= 14.4548</text><text y="40.7">entropy = 0.997290206912</text><text y="60.5">samples = 43</text></g>
<g id="nES" class="n" transform="translate(4254,1547.45)"><rect x="-111" width="222" height="70.5"/><text y="21">X[7] &lt;= 11.4414</text><text y="40.7">entropy = 0.253427453612</text><text y="60.5">samples = 3</text></g>
<g id="nET" class="n" transform="translate(4927.7,1547.45)"><rect x="-124" width="248" height="70.5"/><text y="21">entropy = 0.0000</text><text y="40.7">samples = 1</text><text y="60.5">value = [ 0.          1.83710407]</text></g>
<g id="nEU" class="n" transform="translate(5200,1547.45)"><rect x="-124" width="248" height="70.5"/><text y="21">entropy = -0.0000</text><text y="40.7">samples = 2</text><text y="60.5">value = [ 0.32579186  0.        ]</text></g>
<g id="nEV" class="n" transform="translate(5563.9,1547.45)"><rect x="-115.5" width="231" height="70.5"/><text y="21">X[9] &lt;= 85.2329</text><text y="40.7">entropy = 0.0625553950949</text><text y="60.5">samples = 6</text></g>
<g id="nEW" class="n" transform="translate(5844,1547.45)"><rect x="-106.5" width="213" height="70.5"/><text y="21">X[2] &lt;= 2.3817</text><text y="40.7">entropy = 0.48689081678</text><text y="60.5">samples = 18</text></g>
<g id="nEX" class="n" transform="translate(6538.4,1547.45)"><rect x="-111" width="222" height="70.5"/><text y="21">X[6] &lt;= 6.7484</text><text y="40.7">entropy = 0.448864488723</text><text y="60.5">samples = 7</text></g>
<g id="nEY" class="n" transform="translate(6798.7,1547.45)"><rect x="-124" width="248" height="70.5"/><text y="21">entropy = -0.0000</text><text y="40.7">samples = 2</text><text y="60.5">value = [ 0.97737557  0.        ]</text></g>
<g id="nEZ" class="n" transform="translate(393.3,1666.1)"><rect x="-111" width="222" height="70.5"/><text y="21">X[9] &lt;= 16.2114</text><text y="40.7">entropy = 0.407260743941</text><text y="60.5">samples = 2</text></g>
<g id="nFA" class="n" transform="translate(653,1666.1)"><rect x="-124" width="248" height="70.5"/><text y="21">entropy = 0.0000</text><text y="40.7">samples = 4</text><text y="60.5">value = [ 0.81447964  0.        ]</text></g>
<g id="nFB" class="n" transform="translate(1869,1666.1)"><rect x="-124" width="248" height="70.5"/><text y="21">entropy = 0.0000</text><text y="40.7">samples = 1</text><text y="60.5">value = [ 0.          1.83710407]</text></g>
<g id="nFC" class="n" transform="translate(2141.3,1666.1)"><rect x="-124" width="248" height="70.5"/><text y="21">entropy = 0.0000</text><text y="40.7">samples = 3</text><text y="60.5">value = [ 0.65158371  0.        ]</text></g>
<g id="nFD" class="n" transform="translate(2401,1666.1)"><rect x="-111" width="222" height="70.5"/><text y="21">X[0] &lt;= 1.6431</text><text y="40.7">entropy = 0.079171849805</text><text y="60.5">samples = 6</text></g>
<g id="nFE" class="n" transform="translate(2660.9,1666.1)"><rect x="-124" width="248" height="70.5"/><text y="21">entropy = 0.0000</text><text y="40.7">samples = 1</text><text y="60.5">value = [ 0.16289593  0.        ]</text></g>
<g id="nFF" class="n" transform="translate(2933,1666.1)"><rect x="-124" width="248" height="70.5"/><text y="21">entropy = 0.0000</text><text y="40.7">samples = 3</text><text y="60.5">value = [ 0.97737557  0.        ]</text></g>
<g id="nFG" class="n" transform="translate(3192.7,1666.1)"><rect x="-111" width="222" height="70.5"/><text y="21">X[9] &lt;= 47.7171</text><text y="40.7">entropy = 0.611408685636</text><text y="60.5">samples = 10</text></g>
<g id="nFH" class="n" transform="translate(3721.8,1666.1)"><rect x="-111" width="222" height="70.5"/><text y="21">X[9] &lt;= 49.9195</text><text y="40.7">entropy = 0.899104520848</text><text y="60.5">samples = 39</text></g>
<g id="nFI" class="n" transform="translate(3994,1666.1)"><rect x="-111" width="222" height="70.5"/><text y="21">X[5] &lt;= 18.1925</text><text y="40.7">entropy = 0.407260743941</text><text y="60.5">samples = 4</text></g>
<g id="nFJ" class="n" transform="translate(4253.5,1666.1)"><rect x="-124" width="248" height="70.5"/><text y="21">entropy = 0.0000</text><text y="40.7">samples = 2</text><text y="60.5">value = [ 0.          3.67420814]</text></g>
<g id="nFK" class="n" transform="translate(4526.4,1666.1)"><rect x="-124" width="248" height="70.5"/><text y="21">entropy = -0.0000</text><text y="40.7">samples = 1</text><text y="60.5">value = [ 0.16289593  0.        ]</text></g>
<g id="nFL" class="n" transform="translate(5284,1666.1)"><rect x="-131.5" width="263" height="70.5"/><text y="21">entropy = 0.0000</text><text y="40.7">samples = 5</text><text y="60.5">value = [  0.          22.04524887]</text></g>
<g id="nFM" class="n" transform="translate(5564,1666.1)"><rect x="-124" width="248" height="70.5"/><text y="21">entropy = 0.0000</text><text y="40.7">samples = 1</text><text y="60.5">value = [ 0.16289593  0.        ]</text></g>
<g id="nFN" class="n" transform="translate(5843.9,1666.1)"><rect x="-131.5" width="263" height="70.5"/><text y="21">entropy = 0.0000</text><text y="40.7">samples = 6</text><text y="60.5">value = [  0.          12.85972851]</text></g>
<g id="nFO" class="n" transform="translate(6111,1666.1)"><rect x="-111" width="222" height="70.5"/><text y="21">X[6] &lt;= 3.3683</text><text y="40.7">entropy = 0.931603434368</text><text y="60.5">samples = 12</text></g>
<g id="nFP" class="n" transform="translate(6432.5,1666.1)"><rect x="-124" width="248" height="70.5"/><text y="21">entropy = 0.0000</text><text y="40.7">samples = 3</text><text y="60.5">value = [ 0.97737557  0.        ]</text></g>
<g id="nFQ" class="n" transform="translate(6693,1666.1)"><rect x="-111" width="222" height="70.5"/><text y="21">X[0] &lt;= 0.8490</text><text y="40.7">entropy = 0.109713737422</text><text y="60.5">samples = 4</text></g>
<g id="nFR" class="n" transform="translate(256.7,1784.75)"><rect x="-124" width="248" height="70.5"/><text y="21">entropy = 0.0000</text><text y="40.7">samples = 1</text><text y="60.5">value = [ 0.32579186  0.        ]</text></g>
<g id="nFS" class="n" transform="translate(529,1784.75)"><rect x="-124" width="248" height="70.5"/><text y="21">entropy = 0.0000</text><text y="40.7">samples = 1</text><text y="60.5">value = [ 0.          3.67420814]</text></g>
<g id="nFT" class="n" transform="translate(2261.3,1784.75)"><rect x="-131.5" width="263" height="70.5"/><text y="21">entropy = 0.0000</text><text y="40.7">samples = 5</text><text y="60.5">value = [  0.          16.53393665]</text></g>
<g id="nFU" class="n" transform="translate(2541.3,1784.75)"><rect x="-124" width="248" height="70.5"/><text y="21">entropy = 0.0000</text><text y="40.7">samples = 1</text><text y="60.5">value = [ 0.16289593  0.        ]</text></g>
<g id="nFV" class="n" transform="translate(2948.2,1784.75)"><rect x="-106.5" width="213" height="70.5"/><text y="21">X[6] &lt;= 5.4427</text><text y="40.7">entropy = 0.88987641122</text><text y="60.5">samples = 8</text></g>
<g id="nFW" class="n" transform="translate(3203,1784.75)"><rect x="-124" width="248" height="70.5"/><text y="21">entropy = 0.0000</text><text y="40.7">samples = 2</text><text y="60.5">value = [ 0.          5.51131222]</text></g>
<g id="nFX" class="n" transform="translate(3462.8,1784.75)"><rect x="-111" width="222" height="70.5"/><text y="21">X[7] &lt;= 10.7530</text><text y="40.7">entropy = 0.695358474825</text><text y="60.5">samples = 38</text></g>
<g id="nFY" class="n" transform="translate(3722.2,1784.75)"><rect x="-124" width="248" height="70.5"/><text y="21">entropy = 0.0000</text><text y="40.7">samples = 1</text><text y="60.5">value = [ 0.          1.83710407]</text></g>
<g id="nFZ" class="n" transform="translate(3994.6,1784.75)"><rect x="-124" width="248" height="70.5"/><text y="21">entropy = 0.0000</text><text y="40.7">samples = 2</text><text y="60.5">value = [ 0.          3.67420814]</text></g>
<g id="nGA" class="n" transform="translate(4266.4,1784.75)"><rect x="-124" width="248" height="70.5"/><text y="21">entropy = 0.0000</text><text y="40.7">samples = 2</text><text y="60.5">value = [ 0.32579186  0.        ]</text></g>
<g id="nGB" class="n" transform="translate(5867.9,1784.75)"><rect x="-124" width="248" height="70.5"/><text y="21">entropy = 0.0000</text><text y="40.7">samples = 11</text><text y="60.5">value = [ 1.95475113  0.        ]</text></g>
<g id="nGC" class="n" transform="translate(6140,1784.75)"><rect x="-124" width="248" height="70.5"/><text y="21">entropy = -0.0000</text><text y="40.7">samples = 1</text><text y="60.5">value = [ 0.          3.67420814]</text></g>
<g id="nGD" class="n" transform="translate(6446,1784.75)"><rect x="-131.5" width="263" height="70.5"/><text y="21">entropy = 0.0000</text><text y="40.7">samples = 3</text><text y="60.5">value = [  0.          11.02262443]</text></g>
<g id="nGE" class="n" transform="translate(6726.5,1784.75)"><rect x="-124" width="248" height="70.5"/><text y="21">entropy = 0.0000</text><text y="40.7">samples = 1</text><text y="60.5">value = [ 0.16289593  0.        ]</text></g>
<g id="nGF" class="n" transform="translate(2809.2,1903.4)"><rect x="-124" width="248" height="70.5"/><text y="21">entropy = 0.0000</text><text y="40.7">samples = 3</text><text y="60.5">value = [ 1.14027149  0.        ]</text></g>
<g id="nGG" class="n" transform="translate(3069.3,1903.4)"><rect x="-111" width="222" height="70.5"/><text y="21">X[8] &lt;= 90.5056</text><text y="40.7">entropy = 0.521815469436</text><text y="60.5">samples = 5</text></g>
<g id="nGH" class="n" transform="translate(3430.5,1903.4)"><rect x="-124" width="248" height="70.5"/><text y="21">entropy = 0.0000</text><text y="40.7">samples = 30</text><text y="60.5">value = [ 6.84162896  0.        ]</text></g>
<g id="nGI" class="n" transform="translate(3690.5,1903.4)"><rect x="-111" width="222" height="70.5"/><text y="21">X[6] &lt;= 1.2752</text><text y="40.7">entropy = 0.960118662642</text><text y="60.5">samples = 8</text></g>
<g id="nGJ" class="n" transform="translate(2840.5,2022.05)"><rect x="-124" width="248" height="70.5"/><text y="21">entropy = 0.0000</text><text y="40.7">samples = 2</text><text y="60.5">value = [ 0.32579186  0.        ]</text></g>
<g id="nGK" class="n" transform="translate(3101.5,2022.05)"><rect x="-111" width="222" height="70.5"/><text y="21">X[4] &lt;= -3.2416</text><text y="40.7">entropy = 0.253427453612</text><text y="60.5">samples = 3</text></g>
<g id="nGL" class="n" transform="translate(3423.5,2022.05)"><rect x="-124" width="248" height="70.5"/><text y="21">entropy = 0.0000</text><text y="40.7">samples = 1</text><text y="60.5">value = [ 0.          1.83710407]</text></g>
<g id="nGM" class="n" transform="translate(3695.5,2022.05)"><rect x="-124" width="248" height="70.5"/><text y="21">entropy = -0.0000</text><text y="40.7">samples = 7</text><text y="60.5">value = [ 1.14027149  0.        ]</text></g>
<g id="nGN" class="n" transform="translate(2965.5,2140.7)"><rect x="-124" width="248" height="70.5"/><text y="21">entropy = 0.0000</text><text y="40.7">samples = 1</text><text y="60.5">value = [ 0.16289593  0.        ]</text></g>
<g id="nGO" class="n" transform="translate(3236.7,2140.7)"><rect x="-124" width="248" height="70.5"/><text y="21">entropy = 0.0000</text><text y="40.7">samples = 2</text><text y="60.5">value = [ 0.          3.67420814]</text></g>
</g>
</svg>
